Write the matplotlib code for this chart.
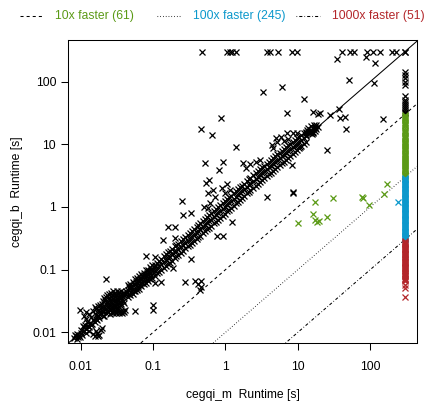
import matplotlib
matplotlib.use('Agg')
import matplotlib.pyplot as plt
import numpy as np
from matplotlib.lines import Line2D

plt.rcParams['font.family'] = ['Liberation Sans', 'DejaVu Sans']
plt.rcParams['lines.scale_dashes'] = False

TIMEOUT = 300.0

# runtimes in seconds, (cegqi_m, cegqi_b)
low_pts = [
    (0.0085, 0.0088), (0.009, 0.0095), (0.0095, 0.009), (0.01, 0.0098), (0.0105, 0.0092),
    (0.011, 0.0105), (0.0088, 0.0079), (0.0092, 0.0083), (0.0098, 0.0085), (0.0102, 0.0108),
    (0.011, 0.012), (0.012, 0.0114), (0.0125, 0.0128), (0.013, 0.0121), (0.0135, 0.014),
    (0.014, 0.013), (0.0145, 0.0136), (0.015, 0.0155), (0.0155, 0.0146), (0.016, 0.0165),
    (0.017, 0.016), (0.0115, 0.0133), (0.0124, 0.0146), (0.0106, 0.0124), (0.0118, 0.0099),
    (0.013, 0.0106), (0.0175, 0.0185), (0.018, 0.0172), (0.0166, 0.018), (0.0188, 0.0198),
    (0.015, 0.0095), (0.0158, 0.0088), (0.0168, 0.0098), (0.018, 0.009), (0.0163, 0.0106),
    (0.019, 0.011), (0.0198, 0.0116), (0.0175, 0.0086), (0.011, 0.018), (0.013, 0.0195),
    (0.0148, 0.022), (0.012, 0.0162), (0.014, 0.0178), (0.0098, 0.023), (0.012, 0.021),
    (0.0156, 0.025), (0.008, 0.0082), (0.0083, 0.0092),
    (0.016, 0.019), (0.017, 0.021), (0.018, 0.023), (0.0165, 0.0235), (0.0175, 0.026),
    (0.0185, 0.0275), (0.02, 0.018), (0.021, 0.0185),
]

blob_pts = [
    (0.019, 0.0200), (0.022, 0.0202), (0.025, 0.0199), (0.028, 0.0201), (0.031, 0.0200),
    (0.034, 0.0203), (0.037, 0.0201), (0.040, 0.0208), (0.041, 0.023),
    (0.0197, 0.0225), (0.023, 0.0222), (0.026, 0.0227), (0.0292, 0.0223), (0.033, 0.0226),
    (0.036, 0.0221), (0.0192, 0.0252), (0.0213, 0.0248), (0.0242, 0.0253), (0.0272, 0.0249),
    (0.0302, 0.0254), (0.0338, 0.0251), (0.0196, 0.0282), (0.0222, 0.0279), (0.0252, 0.0284),
    (0.0288, 0.0278), (0.0322, 0.0283), (0.0358, 0.0281), (0.0202, 0.0312), (0.0232, 0.0309),
    (0.0262, 0.0315), (0.0298, 0.0311), (0.0341, 0.0308), (0.0382, 0.0313), (0.0212, 0.0352),
    (0.0243, 0.0349), (0.0278, 0.0354), (0.0318, 0.0351), (0.0362, 0.0348), (0.0232, 0.0392),
    (0.0268, 0.0389), (0.0308, 0.0394), (0.0352, 0.0391), (0.0402, 0.0388), (0.0262, 0.0432),
    (0.0302, 0.0429), (0.0342, 0.0434), (0.0392, 0.0431), (0.0442, 0.0428),
    (0.0205, 0.0212), (0.0235, 0.0214), (0.0268, 0.0211), (0.0305, 0.0213), (0.035, 0.0212),
    (0.0208, 0.0267), (0.0238, 0.0265), (0.0271, 0.0268), (0.031, 0.0266), (0.0348, 0.0269),
    (0.0218, 0.0331), (0.0252, 0.0329), (0.0291, 0.0333), (0.0331, 0.0328), (0.0372, 0.0332),
    (0.0248, 0.0412), (0.0288, 0.0409), (0.0328, 0.0414), (0.0372, 0.0411),
    (0.0215, 0.0236), (0.0248, 0.0238), (0.0285, 0.0236), (0.0318, 0.0239), (0.0385, 0.0218),
    (0.0228, 0.0296), (0.0262, 0.0294), (0.0305, 0.0297), (0.0352, 0.0295), (0.0392, 0.0292),
    (0.0225, 0.0372), (0.0258, 0.0369), (0.0296, 0.0373), (0.0338, 0.0371), (0.0385, 0.0368),
    (0.0282, 0.0455), (0.0322, 0.0458), (0.0365, 0.0452), (0.0418, 0.0455), (0.0425, 0.0405),
]

# main diagonal band: x with a low / middle / high reading of y
band_x = [0.045, 0.048, 0.052, 0.056, 0.06, 0.064, 0.069, 0.074, 0.079, 0.085, 0.091, 0.098,
          0.105, 0.112, 0.12, 0.13, 0.14, 0.15, 0.16, 0.17, 0.18, 0.2, 0.21, 0.22, 0.24, 0.26,
          0.28, 0.3, 0.32, 0.34, 0.37, 0.4, 0.42, 0.45, 0.49, 0.52, 0.56, 0.6, 0.64, 0.69, 0.74,
          0.79, 0.85, 0.91, 0.98, 1.05, 1.12, 1.2, 1.3, 1.4, 1.5, 1.6, 1.7, 1.8, 2.0, 2.1, 2.2,
          2.4, 2.6, 2.8, 3.0, 3.2, 3.4, 3.7, 4.0, 4.2, 4.5, 4.9, 5.2, 5.6, 6.0, 6.4, 6.9, 7.4,
          7.9, 8.5, 9.1, 9.8, 10.5, 11.2, 12, 13]
band_lo = [0.036, 0.04, 0.041, 0.046, 0.047, 0.05, 0.055, 0.058, 0.062, 0.066, 0.07, 0.075,
           0.08, 0.087, 0.092, 0.1, 0.108, 0.115, 0.125, 0.13, 0.14, 0.155, 0.165, 0.17, 0.185,
           0.2, 0.22, 0.235, 0.25, 0.265, 0.29, 0.31, 0.33, 0.35, 0.39, 0.41, 0.44, 0.47, 0.5,
           0.55, 0.58, 0.63, 0.67, 0.72, 0.78, 0.85, 0.9, 0.98, 1.05, 1.15, 1.22, 1.3, 1.4, 1.5,
           1.65, 1.75, 1.85, 2.0, 2.15, 2.35, 2.5, 2.7, 2.85, 3.1, 3.35, 3.5, 3.8, 4.1, 4.35,
           4.7, 5.0, 5.3, 5.7, 6.1, 6.5, 7.0, 7.5, 8.1, 8.7, 9.3, 10, 11]
band_mid = [0.047, 0.05, 0.05, 0.058, 0.062, 0.063, 0.07, 0.072, 0.08, 0.083, 0.088, 0.095,
            0.1, 0.107, 0.115, 0.124, 0.135, 0.142, 0.155, 0.16, 0.175, 0.19, 0.2, 0.215, 0.23,
            0.25, 0.27, 0.29, 0.31, 0.33, 0.36, 0.39, 0.41, 0.44, 0.48, 0.52, 0.56, 0.6, 0.63,
            0.69, 0.74, 0.8, 0.86, 0.92, 1.0, 1.07, 1.15, 1.25, 1.35, 1.45, 1.56, 1.68, 1.8,
            1.92, 2.12, 2.25, 2.38, 2.6, 2.8, 3.0, 3.25, 3.45, 3.7, 4.0, 4.3, 4.5, 4.85, 5.3,
            5.6, 6.0, 6.4, 6.8, 7.3, 7.8, 8.3, 8.9, 9.5, 10.2, 10.9, 11.6, 12.4, 13.4]
band_hi = [0.056, 0.058, 0.063, 0.07, 0.074, 0.08, 0.085, 0.09, 0.097, 0.1, 0.11, 0.118,
           0.12, 0.13, 0.14, 0.15, 0.165, 0.175, 0.19, 0.2, 0.21, 0.235, 0.25, 0.26, 0.285,
           0.31, 0.33, 0.36, 0.38, 0.41, 0.45, 0.48, 0.52, 0.55, 0.6, 0.64, 0.69, 0.74, 0.8,
           0.86, 0.93, 0.99, 1.07, 1.15, 1.24, 1.33, 1.42, 1.52, 1.65, 1.8, 1.92, 2.05, 2.2,
           2.35, 2.6, 2.75, 2.95, 3.2, 3.45, 3.7, 4.0, 4.3, 4.55, 4.9, 5.3, 5.6, 6.0, 6.5, 6.9,
           7.4, 7.9, 8.4, 9.0, 9.6, 10.2, 10.9, 11.6, 12.4, 13.2, 14.0, 15, 16]

# extra readings where the band is thickest (0.045 - 0.11 s)
thick_x = [0.046, 0.05, 0.054, 0.058, 0.062, 0.066, 0.071, 0.076, 0.082, 0.088, 0.095, 0.102,
           0.046, 0.05, 0.054, 0.058, 0.062, 0.066, 0.071, 0.076, 0.082, 0.088, 0.095, 0.102]
thick_y = [0.041, 0.044, 0.046, 0.051, 0.054, 0.057, 0.062, 0.065, 0.07, 0.075, 0.081, 0.087,
           0.052, 0.055, 0.058, 0.064, 0.068, 0.072, 0.078, 0.082, 0.089, 0.094, 0.102, 0.11]

cluster_pts = [
    (13, 15), (14, 16), (15, 17), (16, 18), (17, 19), (18, 20), (14, 18), (15, 19.5),
    (16, 16), (17, 16.5), (13.5, 17), (15.5, 14.5), (18, 17.5), (16.5, 20.5), (14.5, 15),
    (12.8, 14), (19, 19), (17.5, 18), (16, 15.2), (15, 16),
]

scatter_pts = [
    (0.022, 0.071), (0.08, 0.166), (0.105, 0.16), (0.136, 0.3), (0.16, 0.48), (0.2, 0.48),
    (0.2, 0.32), (0.25, 1.25), (0.26, 0.74), (0.33, 0.8), (0.54, 2.4), (0.6, 2.7),
    (0.67, 1.85), (0.57, 1.65), (0.72, 1.45), (0.52, 5.0), (0.92, 5.2), (0.81, 3.9),
    (1.73, 5.0), (1.39, 9.1), (0.46, 17.6), (0.65, 14.1), (0.86, 26), (3.3, 68), (6.0, 82),
    (7.1, 31.6), (7.1, 15), (12.2, 53), (4.4, 9.8), (9.8, 15), (10.7, 9.1), (5.2, 11),
    (4.6, 8.6), (16, 33), (19, 30), (20, 31.6), (28, 29.4), (37, 36.6), (38, 26), (45, 27),
    (150, 25.4), (46, 17.6), (51, 105), (113, 95), (35, 230), (88, 250), (115, 200),
    (0.5, 1.0), (0.58, 0.95), (0.62, 1.15), (0.9, 2.0), (1.05, 2.3), (1.15, 1.9), (1.0, 1.7),
    (1.9, 4.2), (2.2, 4.9), (2.6, 5.3), (3.0, 5.6), (5.0, 12.5), (5.8, 13), (6.5, 11.5),
    (7.4, 12), (8.6, 15.3),
    (0.056, 0.022), (0.1, 0.027), (0.1, 0.023), (0.105, 0.062), (0.128, 0.064), (0.19, 0.108),
    (0.33, 0.15), (0.28, 0.064), (0.38, 0.067), (0.46, 0.067), (0.44, 0.047), (0.46, 0.053),
    (0.42, 0.058), (0.76, 0.34), (0.92, 0.34), (1.23, 0.58), (3.7, 1.45), (8.5, 1.67),
    (8.7, 1.72), (8.3, 4.6), (25, 8.1),
    (10, 0.56), (16.3, 0.78), (17.3, 0.62), (18.5, 0.58), (19.6, 0.6), (25, 0.7),
    (17.3, 1.22), (30.8, 1.4), (77, 1.45), (80, 1.4), (96, 1.08), (156, 1.62), (170, 2.33),
    (245, 1.22),
]

# cegqi_b hit the timeout
top_x = [0.48, 1.05, 1.15, 1.25, 1.4, 3.7, 4.1, 5.4, 8.3, 9.6, 41, 52, 60, 91, 110, 137,
         200, 230, 300, 300]

# cegqi_m hit the timeout: cegqi_b runtimes
timeout_y = [144, 128, 114, 100, 88, 58, 51, 47, 44, 41, 38, 35, 33, 31.5,
             29, 27, 25, 23, 21, 19.5, 18, 16.5, 15, 14, 13, 12, 11, 10, 9.3, 8.6, 8, 7.4,
             6.8, 6.3, 5.8, 5.4, 5, 4.6, 4.3, 4.0, 3.7, 3.4, 3.2, 3.05,
             28, 26, 24, 22, 20, 17.2, 15.7, 13.5, 12.5, 11.5, 10.5, 9.6, 8.9, 8.3, 7.7,
             7.1, 6.5, 6.0, 5.6, 5.2, 4.8, 4.45, 4.15, 3.85, 3.55, 3.3, 3.12,
             2.9, 2.75, 2.6, 2.45, 2.3, 2.15, 2.0, 1.88, 1.76, 1.65, 1.55, 1.45, 1.36, 1.28,
             1.2, 1.12, 1.05, 0.98, 0.92, 0.86, 0.81, 0.76, 0.71, 0.67, 0.63, 0.59, 0.55, 0.52,
             0.48, 0.45, 0.42, 0.395, 0.37, 0.35, 0.33, 0.31,
             2.82, 2.67, 2.52, 2.37, 2.22, 2.07, 1.94, 1.82, 1.7, 1.6, 1.5, 1.4, 1.32, 1.24,
             1.16, 1.08, 1.01, 0.95, 0.89, 0.835, 0.785, 0.735, 0.69, 0.65, 0.61, 0.57, 0.535,
             0.5, 0.465, 0.435, 0.405, 0.38, 0.36, 0.34, 0.32, 0.305,
             0.29, 0.27, 0.255, 0.24, 0.225, 0.21, 0.2, 0.185, 0.175, 0.165, 0.155, 0.145,
             0.135, 0.128, 0.12, 0.112, 0.105, 0.098, 0.092, 0.086, 0.08, 0.075, 0.07, 0.066,
             0.057, 0.051, 0.037,
             0.28, 0.262, 0.247, 0.232, 0.217, 0.205, 0.192, 0.18, 0.17, 0.16, 0.15, 0.14,
             0.131, 0.124, 0.116, 0.108, 0.101, 0.095, 0.089, 0.083, 0.078, 0.072, 0.068]

speedups = [10, 100, 1000]
speedup_styles = [(0, (2.2, 2.2)), (0, (0.5, 1.5)), (0, (0.5, 1.5, 2.2, 1.5))]
legend_labels = ['10x faster (61)', '100x faster (245)', '1000x faster (51)']
legend_colors = ['#5b9a16', '#0c98cc', '#b3262a']

xs, ys = [], []
for pts in (low_pts, blob_pts, cluster_pts, scatter_pts):
    xs += [p[0] for p in pts]
    ys += [p[1] for p in pts]
for lst in (band_lo, band_mid, band_hi):
    xs += band_x
    ys += lst
xs += thick_x
ys += thick_y
xs += top_x
ys += [TIMEOUT] * len(top_x)
xs += [TIMEOUT] * len(timeout_y)
ys += timeout_y
xs = np.array(xs)
ys = np.array(ys)
ratio = xs / ys

fig = plt.figure(figsize=(4.26, 4.04), dpi=100)
ax = fig.add_axes([68 / 426, 1 - 343 / 404, 349 / 426, 303 / 404])
ax.set_xscale('log')
ax.set_yscale('log')
ax.set_xlim(0.00667, 443)
ax.set_ylim(0.00676, 462)

ax.axline((1, 1), (10, 10), color='black', lw=0.75)
for k, ls in zip(speedups, speedup_styles):
    ax.axline((1, 1 / k), (10, 10 / k), color='black', lw=0.75, linestyle=ls)

mk = dict(linestyle='none', marker='x', markersize=5.0, markeredgewidth=0.9)
black = ratio < 10
ax.plot(xs[black], ys[black], color='black', **mk)
bounds = [(10, 100), (100, 1000), (1000, np.inf)]
for (lo, hi), col in zip(bounds, legend_colors):
    sel = (ratio >= lo) & (ratio < hi)
    ax.plot(xs[sel], ys[sel], color=col, **mk)

ticks = [0.01, 0.1, 1, 10, 100]
tick_labels = ['0.01', '0.1', '1', '10', '100']
ax.set_xticks(ticks, tick_labels)
ax.set_yticks(ticks, tick_labels)
ax.minorticks_off()
ax.tick_params(axis='both', direction='out', length=5, width=0.75, labelsize=8.7)
ax.tick_params(axis='x', pad=8)
ax.tick_params(axis='y', pad=3.5)
for s in ax.spines.values():
    s.set_linewidth(0.75)

fig.text(242.5 / 426, 1 - 395 / 404, 'cegqi_m  Runtime [s]', ha='center', va='center', fontsize=8.7)
fig.text(17.5 / 426, 1 - 191.5 / 404, 'cegqi_b  Runtime [s]', ha='center', va='center',
         rotation=90, fontsize=8.7)

# legend above the plot
leg_y = 1 - 16 / 404
line_x = [(20, 43), (157, 181), (296, 320)]
text_x = [55, 193, 332]
for (x0, x1), tx, ls, lab, col in zip(line_x, text_x, speedup_styles, legend_labels, legend_colors):
    fig.add_artist(Line2D([x0 / 426, x1 / 426], [leg_y, leg_y], color='black', lw=0.75,
                          linestyle=ls, transform=fig.transFigure))
    fig.text(tx / 426, leg_y, lab, color=col, ha='left', va='center', fontsize=8.7)

fig.savefig('out.png', dpi=100)
